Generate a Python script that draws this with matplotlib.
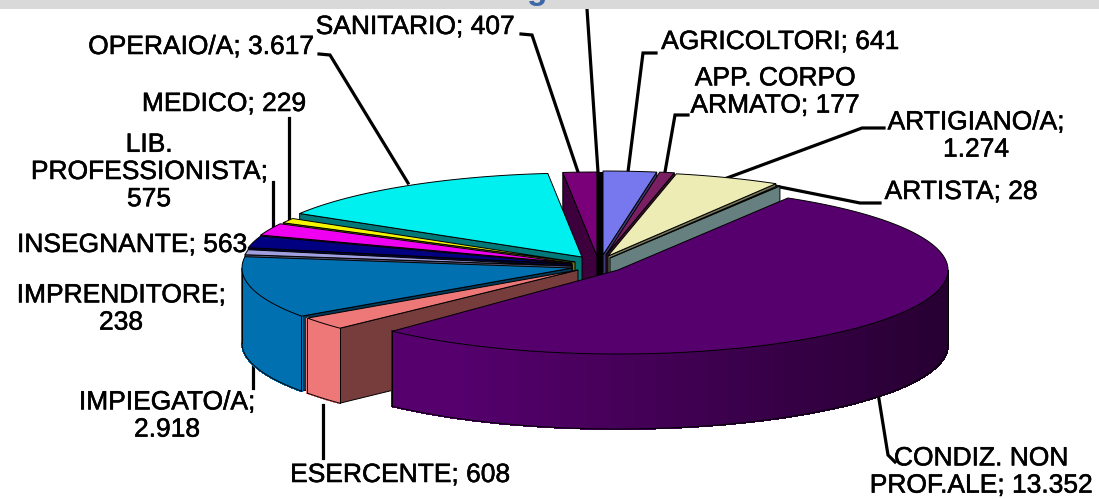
#!/usr/bin/python
# -*- coding: utf-8 -*-

import numpy as np
import matplotlib
matplotlib.use("Agg")
import matplotlib.pyplot as plt
import matplotlib.patheffects as pe
from matplotlib.patches import Polygon, Rectangle

# clockwise from 12 o'clock
categories = ["AGRICOLTORI", "APP. CORPO ARMATO", "ARTIGIANO/A", "ARTISTA",
              "CONDIZ. NON PROF.ALE", "ESERCENTE", "IMPIEGATO/A", "IMPRENDITORE",
              "INSEGNANTE", "LIB. PROFESSIONISTA", "MEDICO", "OPERAIO/A", "SANITARIO"]
values = [641, 177, 1274, 28, 13352, 608, 2918, 238, 563, 575, 229, 3617, 407]

colors = ["#7878EE", "#7A1F62", "#ECECB4", "#CCFFFF", "#56006E", "#EE7878", "#0070B0",
          "#A0A0E0", "#000080", "#F000F0", "#F5F500", "#00F0F0", "#7A007A"]

# how far each slice is pulled out of the centre, in px
explode_x = [3, 6, 8, 10, 18, -22, -28, -28, -28, -28, -25, -18, -3]
explode_y = [-8, -8, -7, -5, 7, 7, 5, 3, 1, 0, -1, -6, -7]
# the big slice stops a little short of its neighbour
trim_end_deg = [0, 0, 0, 0, 3, 0, 0, 0, 0, 0, 0, 0, 0]

CX, CY = 600, 263
RX, RY = 330, 84
DEPTH = 75


def rim(cx, cy, t):
    return np.column_stack([cx + RX * np.sin(t), cy - RY * np.cos(t)])


def shade(color, f):
    return tuple(c * f for c in matplotlib.colors.to_rgb(color))


def wall_factor(x):
    return float(np.clip(1 - (x - 450) / 497.0 * 0.55, 0.45, 1))


def draw_slice(ax, i, t0, t1, z):
    cx, cy = CX + explode_x[i], CY + explode_y[i]
    col = colors[i]
    ts = np.linspace(t0, t1, max(4, int(np.degrees(t1 - t0)) * 3))
    arc = rim(cx, cy, ts)
    edge = dict(edgecolor="black", linewidth=0.7, zorder=z)

    # radial side wall, only the one turned towards the viewer
    if np.sin(t0) < 0:
        p = rim(cx, cy, np.array([t0]))[0]
    elif np.sin(t1) > 0:
        p = rim(cx, cy, np.array([t1]))[0]
    else:
        p = None
    if p is not None:
        ax.add_patch(Polygon([(cx, cy), p, (p[0], p[1] + DEPTH), (cx, cy + DEPTH)],
                             facecolor=shade(col, 0.5), **edge))

    # outer wall, drawn in strips for the shading
    front = (ts >= np.pi / 2) & (ts <= 3 * np.pi / 2)
    if front.sum() > 1:
        pts = arc[front]
        for a, b in zip(pts[:-1], pts[1:]):
            c = shade(col, wall_factor(a[0]))
            ax.add_patch(Polygon([a, b, (b[0], b[1] + DEPTH), (a[0], a[1] + DEPTH)],
                                 facecolor=c, edgecolor=c, linewidth=0.8,
                                 antialiased=False, zorder=z))
        low = pts + [0, DEPTH]
        ax.plot(low[:, 0], low[:, 1], color="black", lw=0.7, zorder=z)
        ax.plot([pts[0, 0]] * 2, [pts[0, 1], low[0, 1]], color="black", lw=0.7, zorder=z)
        ax.plot([pts[-1, 0]] * 2, [pts[-1, 1], low[-1, 1]], color="black", lw=0.7, zorder=z)

    ax.add_patch(Polygon(np.vstack([[(cx, cy)], arc]), facecolor=col, **edge))


fig = plt.figure(figsize=(10.99, 4.99), dpi=100)
ax = fig.add_axes([0, 0, 1, 1])
ax.set_xlim(0, 1099)
ax.set_ylim(499, 0)
ax.axis("off")

edges = np.concatenate([[0], np.cumsum(values)]) / float(sum(values)) * 2 * np.pi

# painter's order: far slices first, the big front one last
order = [12, 0, 1, 2, 3, 11, 10, 9, 8, 7, 6, 5, 4]
for z, i in enumerate(order):
    if i == 0:
        # last slice has no readable value, it only shows as a black bar
        ax.plot([CX, CX], [CY - RY - 7, CY + 30], color="black", lw=4.6,
                solid_capstyle="butt", zorder=2 + z)
    draw_slice(ax, i, edges[i], edges[i + 1] - np.radians(trim_end_deg[i]), 3 + z)

# header strip left from the cut off title
ax.add_patch(Rectangle((0, 0), 1099, 9, facecolor="#D9D9D9", edgecolor="none", zorder=30))
ax.text(537, -1, "g", color="#3C68A8", fontsize=24, fontweight="bold",
        family="Liberation Sans", ha="center", va="baseline", zorder=31)

leaders = [
    [(587, 9), (598, 172)],
    [(521, 34), (532, 35), (578, 172)],
    [(319, 54), (330, 55), (408, 183)],
    [(656, 53), (643, 53), (628, 172)],
    [(688, 115), (675, 115), (665, 172)],
    [(884, 128), (862, 128), (727, 178)],
    [(880, 203), (860, 203), (775, 186)],
    [(878, 393), (888, 455), (895, 462)],
    [(323, 405), (323, 458)],
    [(253, 362), (253, 388)],
    [(289, 118), (289, 218)],
    [(273, 182), (273, 228)],
]
for pts in leaders:
    xs, ys = zip(*pts)
    ax.plot(xs, ys, color="black", lw=2.3, zorder=1, solid_joinstyle="miter")

labels = [
    (780, 42, "AGRICOLTORI; 641"),
    (775, 92, "APP. CORPO\nARMATO; 177"),
    (976, 136, "ARTIGIANO/A;\n1.274"),
    (961, 192, "ARTISTA; 28"),
    (981, 472, "CONDIZ. NON\nPROF.ALE; 13.352"),
    (400, 475, "ESERCENTE; 608"),
    (167, 416, "IMPIEGATO/A;\n2.918"),
    (121, 309, "IMPRENDITORE;\n238"),
    (132, 245, "INSEGNANTE; 563"),
    (149, 172, "LIB.\nPROFESSIONISTA;\n575"),
    (224, 104, "MEDICO; 229"),
    (201, 47, "OPERAIO/A; 3.617"),
    (415, 27, "SANITARIO; 407"),
]
for x, y, s in labels:
    ax.text(x, y, s, ha="center", va="center", fontsize=19.0, color="black",
            family="Liberation Sans", linespacing=1.17, zorder=40,
            path_effects=[pe.withStroke(linewidth=0.4, foreground="black")])

fig.savefig("out.png", dpi=100)
